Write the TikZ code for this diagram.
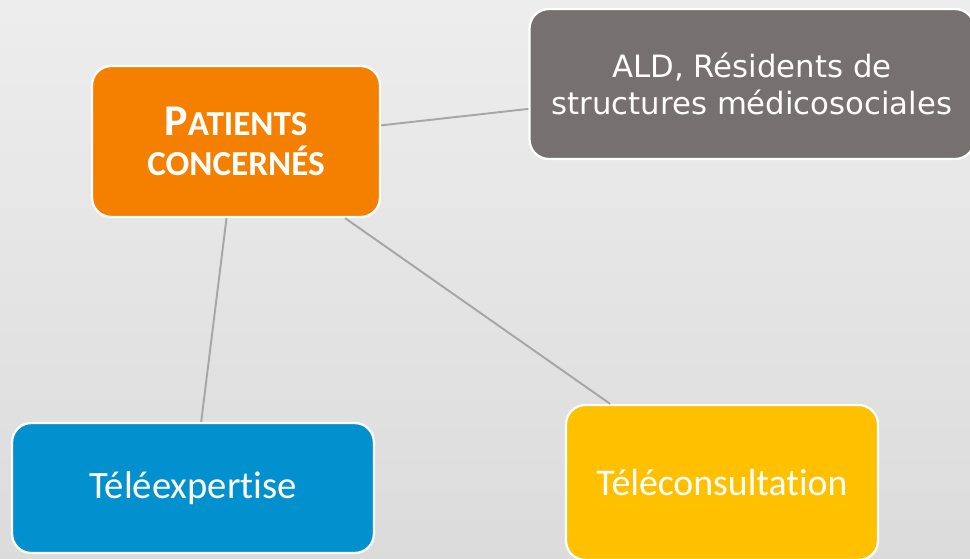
\documentclass[tikz,border=0pt]{standalone}
\usepackage{fontspec}
\setmainfont{Carlito}[Ligatures={NoCommon}]
\newfontfamily\aldfont{DejaVu Sans}
\usepackage{tikz}
\definecolor{corange}{HTML}{F58000}
\definecolor{cgrey}{HTML}{767170}
\definecolor{cblue}{HTML}{0291CE}
\definecolor{cyellow}{HTML}{FFC000}
\definecolor{cline}{HTML}{A6A6A6}

\begin{document}
\begin{tikzpicture}[x=0.02cm,y=-0.02cm,-,thick,
  box node/.style={rectangle,rounded corners=11pt,draw=white,line width=1.3pt,
    text=white,align=center,inner sep=0pt},
  main node/.style={box node,fill=corange,minimum width=5.76cm,minimum height=3.02cm,
    font=\fontsize{20}{22.7}\selectfont\bfseries},
  ald node/.style={box node,fill=cgrey,minimum width=8.9cm,minimum height=3cm,
    font=\aldfont\fontsize{17.5}{21}\selectfont},
  expert node/.style={box node,fill=cblue,minimum width=7.24cm,minimum height=2.6cm,
    font=\fontsize{22}{24}\selectfont},
  consult node/.style={box node,fill=cyellow,minimum width=6.24cm,minimum height=3.1cm,
    font=\fontsize{21.5}{24}\selectfont}]
  \shade[top color=black!7,bottom color=black!14] (0,0) rectangle (970,558);
  \useasboundingbox (0,0) rectangle (970,558);

  \node[main node] (patients) at (236,141.5) {{\fontsize{25}{22.7}\selectfont P}ATIENTS\\CONCERNÉS};
  \node[ald node] (ald) at (752,84) {ALD, Résidents de\\structures médicosociales};
  \node[expert node] (expert) at (193,488) {Téléexpertise};
  \node[consult node] (consult) at (722,482.5) {Téléconsultation};

  \path[draw=cline,line width=1.1pt]
    (patients) edge (ald)
    (patients) edge (expert)
    (patients) edge (consult);
\end{tikzpicture}
\end{document}
